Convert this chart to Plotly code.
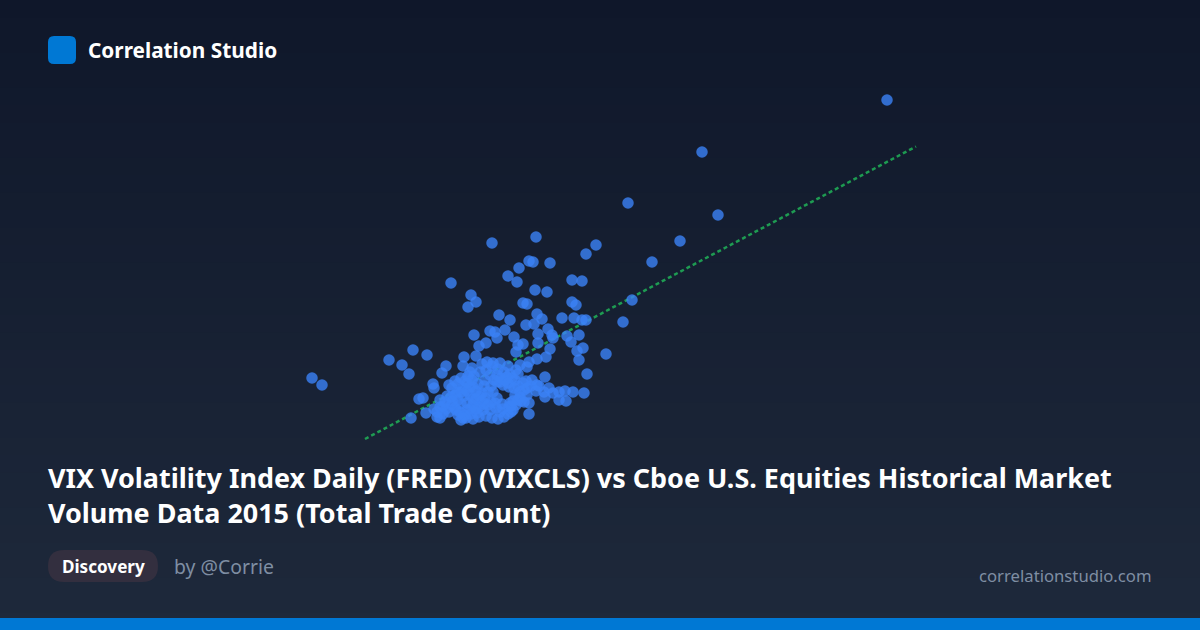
import plotly.graph_objects as go

TITLE = ("VIX Volatility Index Daily (FRED) (VIXCLS) vs Cboe U.S. Equities Historical Market<br>"
         "Volume Data 2015 (Total Trade Count)")
BRAND = "Correlation Studio"
TAG = "Discovery"
AUTHOR = "by @Corrie"
SITE = "correlationstudio.com"

# Total trade count (millions, estimated) and VIX close (estimated)
trade_count = [
    88.7, 70.2, 62.8, 71.8, 68.0, 59.6, 58.6, 53.6, 49.2, 65.2, 63.2, 62.3, 60.6, 31.2, 32.2,
    55.0, 52.9, 53.3, 51.9, 50.8, 51.7, 45.1, 57.2, 58.2, 53.5, 54.7, 47.1, 47.6, 46.8, 52.3,
    52.7, 57.2, 57.6, 49.9, 51.0, 53.7, 54.2, 53.4, 52.6, 56.2, 57.4, 58.2, 58.6, 54.8, 50.5,
    49.0, 49.5, 49.7, 47.4, 53.8, 55.2, 55.3, 56.7, 57.9, 57.1, 51.4, 52.3, 51.8, 53.8, 55.0,
    48.6, 47.9, 58.3, 57.7, 51.6, 41.3, 42.7, 38.9, 40.2, 40.9, 57.9, 54.6, 53.7, 52.9, 52.7,
    46.4, 47.6, 44.6, 44.2, 46.3, 47.2, 48.7, 50.0, 50.8, 48.2, 49.3, 58.7, 54.5, 43.3, 43.4,
    53.7, 53.9, 54.9, 54.4, 55.3, 55.9, 56.5, 57.3, 58.4, 54.5, 55.9, 56.6, 41.9, 42.3, 42.6,
    41.1, 52.9, 52.9, 51.1, 51.0, 49.7,
    44.7, 45.2, 45.8, 46.5, 47.2, 47.8, 48.4, 44.5, 45.1, 45.7, 46.3, 47.0, 47.6, 48.2, 48.8,
    44.0, 44.6, 45.2, 45.8, 46.4, 47.0, 47.6, 48.2, 43.7, 44.3, 44.9, 45.5, 46.1, 46.7, 47.3,
    47.9, 43.4, 44.0, 45.5, 46.1, 46.8, 47.4, 48.0, 48.6, 49.2, 49.8, 50.4, 51.0, 51.5, 51.8,
    52.0, 51.2, 50.5, 49.7, 49.1, 48.5, 49.0, 49.7, 50.3, 50.9, 51.5, 52.1, 52.4, 51.8, 52.6,
    53.1, 53.6, 52.7, 51.6, 51.3, 46.1, 46.3, 45.6, 46.0, 46.7, 46.4, 47.1, 47.7, 48.3, 48.6,
    49.2, 49.8, 50.4, 50.8, 49.0, 49.6, 50.3, 50.9, 48.4, 49.1, 47.3, 47.9, 46.6, 50.0, 52.0,
    51.6, 53.2, 52.3, 51.8, 50.0, 50.7, 44.0, 43.7,
    44.9, 45.5, 46.1, 46.7, 47.3, 46.7, 45.2, 44.3, 45.8, 47.0, 47.6, 47.3, 47.9, 48.5, 48.8,
    49.5, 50.2, 51.1, 51.3, 52.0, 52.4, 52.7, 49.3, 49.4, 50.1, 50.8, 51.4, 47.0,
]
vix_close = [
    44.0, 38.8, 33.7, 32.5, 29.9, 29.5, 28.6, 30.3, 29.7, 27.8, 24.0, 21.8, 18.6, 16.2, 15.5,
    27.7, 27.9, 27.8, 27.2, 26.4, 25.8, 25.7, 26.0, 25.9, 25.0, 24.8, 24.5, 23.8, 23.3, 23.7,
    23.6, 23.8, 23.5, 22.5, 22.0, 22.6, 22.1, 21.6, 21.5, 22.2, 22.2, 22.0, 22.0, 21.1, 21.0,
    20.9, 20.8, 20.2, 20.5, 20.6, 20.5, 20.2, 20.4, 20.5, 19.8, 20.3, 19.6, 19.5, 19.7, 19.1,
    19.7, 19.4, 19.2, 18.9, 18.8, 19.0, 18.5, 18.0, 17.5, 16.6, 18.0, 18.3, 18.1, 17.8, 17.3,
    18.3, 18.4, 17.4, 16.7, 17.4, 17.2, 17.8, 17.7, 17.4, 17.6, 17.7, 16.6, 16.3, 15.6, 15.2,
    15.5, 15.4, 15.2, 14.8, 14.7, 14.8, 14.9, 14.8, 14.7, 14.3, 14.0, 13.9, 14.1, 14.2, 12.7,
    12.2, 13.7, 12.6, 12.8, 13.7, 14.2,
    14.4, 15.2, 15.6, 15.9, 16.0, 15.6, 15.4, 13.8, 14.3, 14.8, 15.2, 15.3, 14.9, 14.7, 14.8,
    13.3, 13.1, 13.5, 14.0, 14.4, 14.5, 14.1, 13.9, 12.8, 12.6, 12.8, 13.2, 13.6, 13.7, 13.5,
    13.3, 13.1, 14.0, 15.9, 16.2, 16.4, 16.4, 16.8, 17.0, 17.4, 17.1, 16.8, 16.6, 16.0, 15.4,
    14.8, 16.2, 16.0, 15.8, 15.4, 16.0, 16.5, 16.5, 15.5, 15.3, 14.5, 13.9, 15.0, 16.6, 15.9,
    15.4, 14.9, 14.5, 13.5, 13.0, 12.0, 12.2, 13.0, 12.8, 13.0, 12.5, 12.6, 12.7, 13.0, 12.4,
    12.2, 12.1, 12.3, 12.6, 13.0, 13.2, 13.1, 13.3, 13.6, 13.8, 12.1, 12.3, 12.2, 12.8, 17.5,
    17.0, 16.0, 15.7, 14.0, 15.8, 16.3, 12.2, 12.3,
    15.5, 14.5, 14.8, 14.9, 15.3, 15.7, 13.9, 13.4, 12.5, 13.1, 13.1, 14.1, 14.4, 14.2, 13.5,
    13.7, 13.6, 13.4, 13.9, 14.3, 13.8, 15.2, 14.8, 16.0, 16.2, 15.7, 15.2, 16.8,
]
trend_x = [36.5, 91.6]
trend_y = [10.1, 39.35]

W, H = 1200, 630
TOP, BOTTOM = (15, 23, 42), (30, 41, 59)


def px(v):
    return v / W


def py(v):
    return 1 - v / H


shapes = []
STRIPS = 36
for i in range(STRIPS):
    t = (i + 0.5) / STRIPS
    c = tuple(round(a + (b - a) * t) for a, b in zip(TOP, BOTTOM))
    # each band runs to the bottom, so no seam shows between bands
    shapes.append(dict(type="rect", xref="paper", yref="paper", layer="below", line_width=0,
                       x0=0, x1=1, y0=1 - i / STRIPS, y1=0, fillcolor=f"rgb{c}"))
# footer bar
shapes.append(dict(type="rect", xref="paper", yref="paper", layer="below", line_width=0,
                   x0=0, x1=1, y0=py(630), y1=py(618), fillcolor="#0078d4"))


def rounded(x0, y0, x1, y1, r):
    ax0, ax1, ay0, ay1 = px(x0), px(x1), py(y0), py(y1)
    rx, ry = r / W, r / H
    return (f"M{ax0 + rx},{ay0} L{ax1 - rx},{ay0} Q{ax1},{ay0} {ax1},{ay0 - ry} "
            f"L{ax1},{ay1 + ry} Q{ax1},{ay1} {ax1 - rx},{ay1} L{ax0 + rx},{ay1} "
            f"Q{ax0},{ay1} {ax0},{ay1 + ry} L{ax0},{ay0 - ry} Q{ax0},{ay0} {ax0 + rx},{ay0} Z")


shapes.append(dict(type="path", xref="paper", yref="paper", layer="below", line_width=0,
                   path=rounded(48, 36, 76, 64, 6), fillcolor="#0078d4"))
shapes.append(dict(type="path", xref="paper", yref="paper", layer="below", line_width=0,
                   path=rounded(48, 550, 158, 582, 16), fillcolor="#332f3f"))

FONT = "Noto Sans"


def label(text, x, y, size, color, weight=400, anchor="left"):
    return dict(text=text, x=px(x), y=py(y), xref="paper", yref="paper", showarrow=False,
                xanchor=anchor, yanchor="middle", align=anchor, borderpad=0, borderwidth=0,
                font=dict(family=FONT, size=size, color=color, weight=weight))


annotations = [
    label(BRAND, 88, 50, 20.8, "#ffffff", 700),
    label(TITLE, 48, 495, 26.95, "#ffffff", 700),
    label(TAG, 103, 566, 17.1, "#ffffff", 700, "center"),
    label(AUTHOR, 174, 566, 19.4, "#7f8ea3"),
    label(SITE, 1152, 575, 16.7, "#7f8ea3", 400, "right"),
]

fig = go.Figure()
fig.add_trace(go.Scatter(x=trend_x, y=trend_y, mode="lines", hoverinfo="skip",
                         line=dict(color="rgba(34,197,94,0.75)", width=2.5, dash="4px,3px")))
fig.add_trace(go.Scatter(x=trade_count, y=vix_close, mode="markers",
                         marker=dict(color="#3b82f6", size=11.5, opacity=0.8, line_width=0)))
fig.update_layout(
    width=W, height=H, autosize=False, showlegend=False,
    margin=dict(l=0, r=0, t=0, b=0),
    paper_bgcolor="#0f172a", plot_bgcolor="rgba(0,0,0,0)",
    shapes=shapes, annotations=annotations,
    xaxis=dict(domain=[290 / W, 930 / W], range=[29, 93], visible=False),
    yaxis=dict(domain=[1 - 450 / H, 1 - 80 / H], range=[9, 46], visible=False),
)
fig.write_html("out.html", config=dict(displayModeBar=False),
               post_script="document.body.style.margin='0';document.body.style.overflow='hidden';")
